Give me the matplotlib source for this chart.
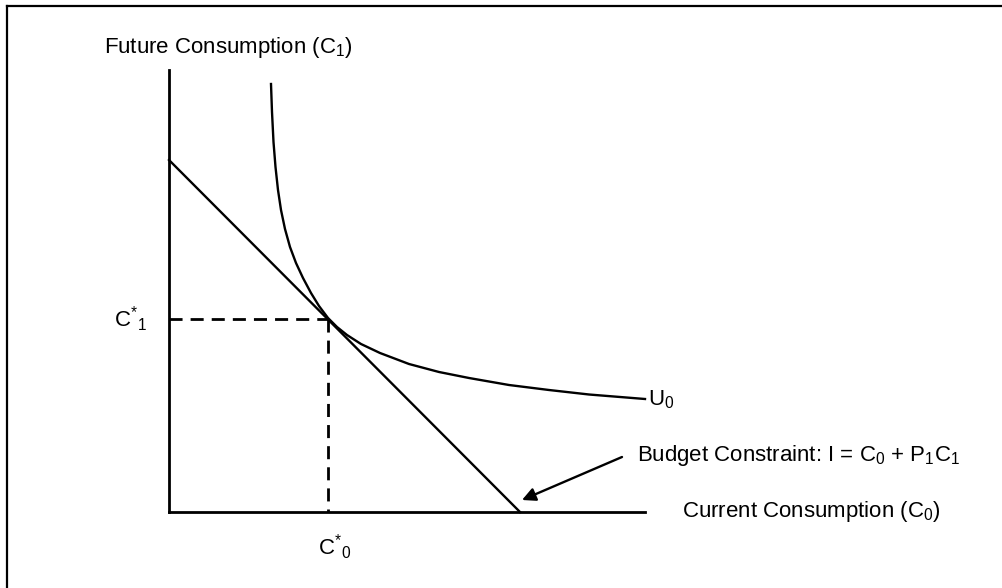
import matplotlib
matplotlib.use("Agg")
import matplotlib.pyplot as plt
from matplotlib.lines import Line2D

plt.rcParams['font.family'] = ['Liberation Sans', 'DejaVu Sans']
plt.rcParams['mathtext.fontset'] = 'custom'
plt.rcParams['mathtext.rm'] = 'Liberation Sans'
plt.rcParams['mathtext.it'] = 'Liberation Sans'
plt.rcParams['mathtext.default'] = 'regular'

# ---- data (units: horizontal = current consumption, vertical = future consumption)
x_axis_len = 476
y_axis_len = 442

indiff_x = [102, 103, 104.5, 106.5, 109, 112, 116, 121, 127, 134, 142, 150, 159,
            168, 178, 192, 211, 240, 270, 300, 340, 380, 420, 476]
indiff_y = [428, 400, 370, 345, 322, 302, 283, 265, 249, 234, 219, 206, 194,
            185, 177, 168, 159, 148, 140, 134, 127, 122, 117.5, 113]

budget_x = [0, 351]
budget_y = [352, 0]

c0_star = 159
c1_star = 193

label_y = "Future Consumption (C$_1$)"
label_x = "Current Consumption (C$_0$)"
label_u = "U$_0$"
label_budget = "Budget Constraint: I = C$_0$ + P$_1$C$_1$"
label_c1 = "C$^{*}{}_{1}$"
label_c0 = "C$^{*}{}_{0}$"

# ---- figure
W, H = 1003, 588
fig = plt.figure(figsize=(W / 100, H / 100), dpi=100)
ax = fig.add_axes([0, 0, 1, 1])
ox, oy = 169, 512
ax.set_xlim(-ox, W - ox)
ax.set_ylim(oy - H, oy)
ax.axis('off')

lw = 1.7
# axes lines
ax.plot([0, 0], [0, y_axis_len], color='black', lw=2.0, solid_capstyle='projecting')
ax.plot([0, x_axis_len], [0, 0], color='black', lw=2.0, solid_capstyle='projecting')

# budget line
ax.plot(budget_x, budget_y, color='black', lw=lw)
# indifference curve
ax.plot(indiff_x, indiff_y, color='black', lw=lw, solid_joinstyle='round')

# dashed guides
ax.plot([0, c0_star], [c1_star, c1_star], color='black', lw=2.0,
        linestyle=(0, (4.7, 2.9)))
ax.plot([c0_star, c0_star], [c1_star, 0], color='black', lw=2.0,
        linestyle=(0, (4.7, 2.9)))

fs = 16
ax.text(-65, 464, label_y, fontsize=fs, ha='left', va='center')
ax.text(-39, c1_star, label_c1, fontsize=fs, ha='center', va='center')
ax.text(c0_star + 7, -35, label_c0, fontsize=fs, ha='center', va='center')
ax.text(479, 112, label_u, fontsize=fs, ha='left', va='center')
ax.text(468, 57, label_budget, fontsize=fs, ha='left', va='center')
ax.text(513, 0, label_x, fontsize=fs, ha='left', va='center')

ax.annotate('', xy=(353, 12), xytext=(453, 55),
            arrowprops=dict(arrowstyle='-|>', color='black', lw=1.7,
                            mutation_scale=20, shrinkA=0, shrinkB=0))

# outer border (top and left visible)
fig.add_artist(Line2D([7 / W, 1.0], [1 - 6 / H, 1 - 6 / H], color='black',
                      lw=1.6, transform=fig.transFigure))
fig.add_artist(Line2D([7 / W, 7 / W], [0, 1 - 6 / H], color='black',
                      lw=1.6, transform=fig.transFigure))

fig.savefig('out.png', dpi=100)
